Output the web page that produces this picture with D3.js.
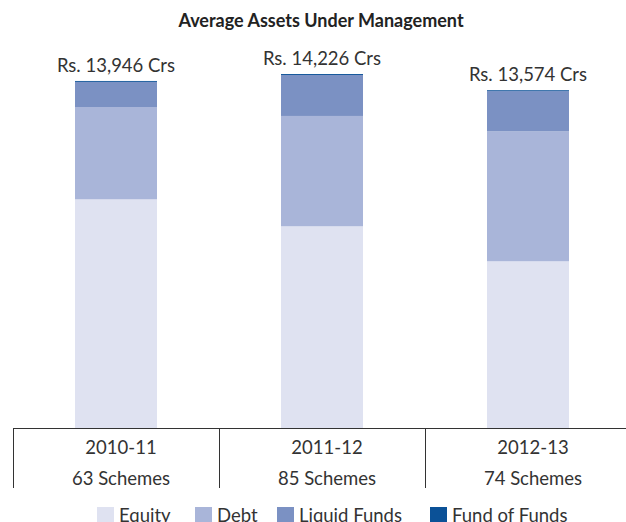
<!DOCTYPE html>
<html>
<head>
<meta charset="utf-8">
<script src="https://cdn.jsdelivr.net/npm/d3@7"></script>
<style>
  body { margin: 0; background: #fff; }
  svg { display: block; font-family: Lato, "Open Sans", sans-serif; }
</style>
</head>
<body>
<svg id="chart" width="626" height="522"></svg>
<script>
var years = ["2010-11", "2011-12", "2012-13"];
var schemes = ["63 Schemes", "85 Schemes", "74 Schemes"];
var totals = [13946, 14226, 13574];
var equity = [9190, 8107, 6700];
var debt = [3710, 4433, 5220];
var liquid = [1010, 1648, 1620];
var fof = [36, 38, 34];

var seriesNames = ["Equity", "Debt", "Liquid Funds", "Fund of Funds"];
var colors = ["#dfe2f1", "#a9b5d9", "#7b91c3", "#0b5197"];

var svg = d3.select("#chart");

var rows = years.map(function(y, i) {
  return { year: y, "Equity": equity[i], "Debt": debt[i], "Liquid Funds": liquid[i], "Fund of Funds": fof[i] };
});
var stacked = d3.stack().keys(seriesNames)(rows);

var x = d3.scaleBand().domain(years).range([13, 631]);
var y = d3.scaleLinear().domain([0, d3.max(totals)]).range([428, 74]);
var color = d3.scaleOrdinal().domain(seriesNames).range(colors);
var barW = 82;
var fs = "18.5px";

// title
svg.append("text")
  .attr("x", 321).attr("y", 27)
  .attr("text-anchor", "middle")
  .style("font-weight", "bold")
  .style("font-size", "18px")
  .style("fill", "#222")
  .text("Average Assets Under Management");

// bars
var layers = svg.append("g").selectAll("g")
  .data(stacked)
  .enter().append("g")
  .attr("fill", function(d) { return color(d.key); });

layers.selectAll("rect")
  .data(function(d) { return d; })
  .enter().append("rect")
  .attr("x", function(d) { return x(d.data.year) + x.bandwidth() / 2 - barW / 2; })
  .attr("width", barW)
  .attr("y", function(d) { return y(d[1]); })
  .attr("height", function(d) { return y(d[0]) - y(d[1]); });

// totals
svg.append("g").selectAll("text")
  .data(totals)
  .enter().append("text")
  .attr("x", function(d, i) { return x(years[i]) + x.bandwidth() / 2; })
  .attr("y", function(d) { return y(d) - 9; })
  .attr("text-anchor", "middle")
  .style("font-size", fs)
  .style("fill", "#333")
  .text(function(d) { return "Rs. " + d3.format(",")(d) + " Crs"; });

// table under the bars
var tbl = svg.append("g").attr("stroke", "#333").attr("stroke-width", 1);
tbl.append("line")
  .attr("x1", x.range()[0]).attr("x2", 626)
  .attr("y1", y(0) + 0.5).attr("y2", y(0) + 0.5);
tbl.selectAll("line.div")
  .data(years)
  .enter().append("line")
  .attr("class", "div")
  .attr("x1", function(d) { return Math.round(x(d)) + 0.5; })
  .attr("x2", function(d) { return Math.round(x(d)) + 0.5; })
  .attr("y1", y(0)).attr("y2", 488);

svg.append("g").selectAll("text")
  .data(years)
  .enter().append("text")
  .attr("x", function(d) { return x(d) + x.bandwidth() / 2 + 5; })
  .attr("y", 454)
  .attr("text-anchor", "middle")
  .style("font-size", fs)
  .style("fill", "#333")
  .text(function(d) { return d; });

svg.append("g").selectAll("text")
  .data(schemes)
  .enter().append("text")
  .attr("x", function(d, i) { return x(years[i]) + x.bandwidth() / 2 + 5; })
  .attr("y", 485)
  .attr("text-anchor", "middle")
  .style("font-size", fs)
  .style("fill", "#333")
  .text(function(d) { return d; });

// legend
var legendX = [97, 195, 277, 430];
var legend = svg.append("g").selectAll("g")
  .data(seriesNames)
  .enter().append("g")
  .attr("transform", function(d, i) { return "translate(" + legendX[i] + ",507)"; });
legend.append("rect")
  .attr("width", 17).attr("height", 17)
  .attr("fill", function(d) { return color(d); });
legend.append("text")
  .attr("x", 22).attr("y", 15)
  .style("font-size", fs)
  .style("fill", "#333")
  .text(function(d) { return d; });
</script>
</body>
</html>
